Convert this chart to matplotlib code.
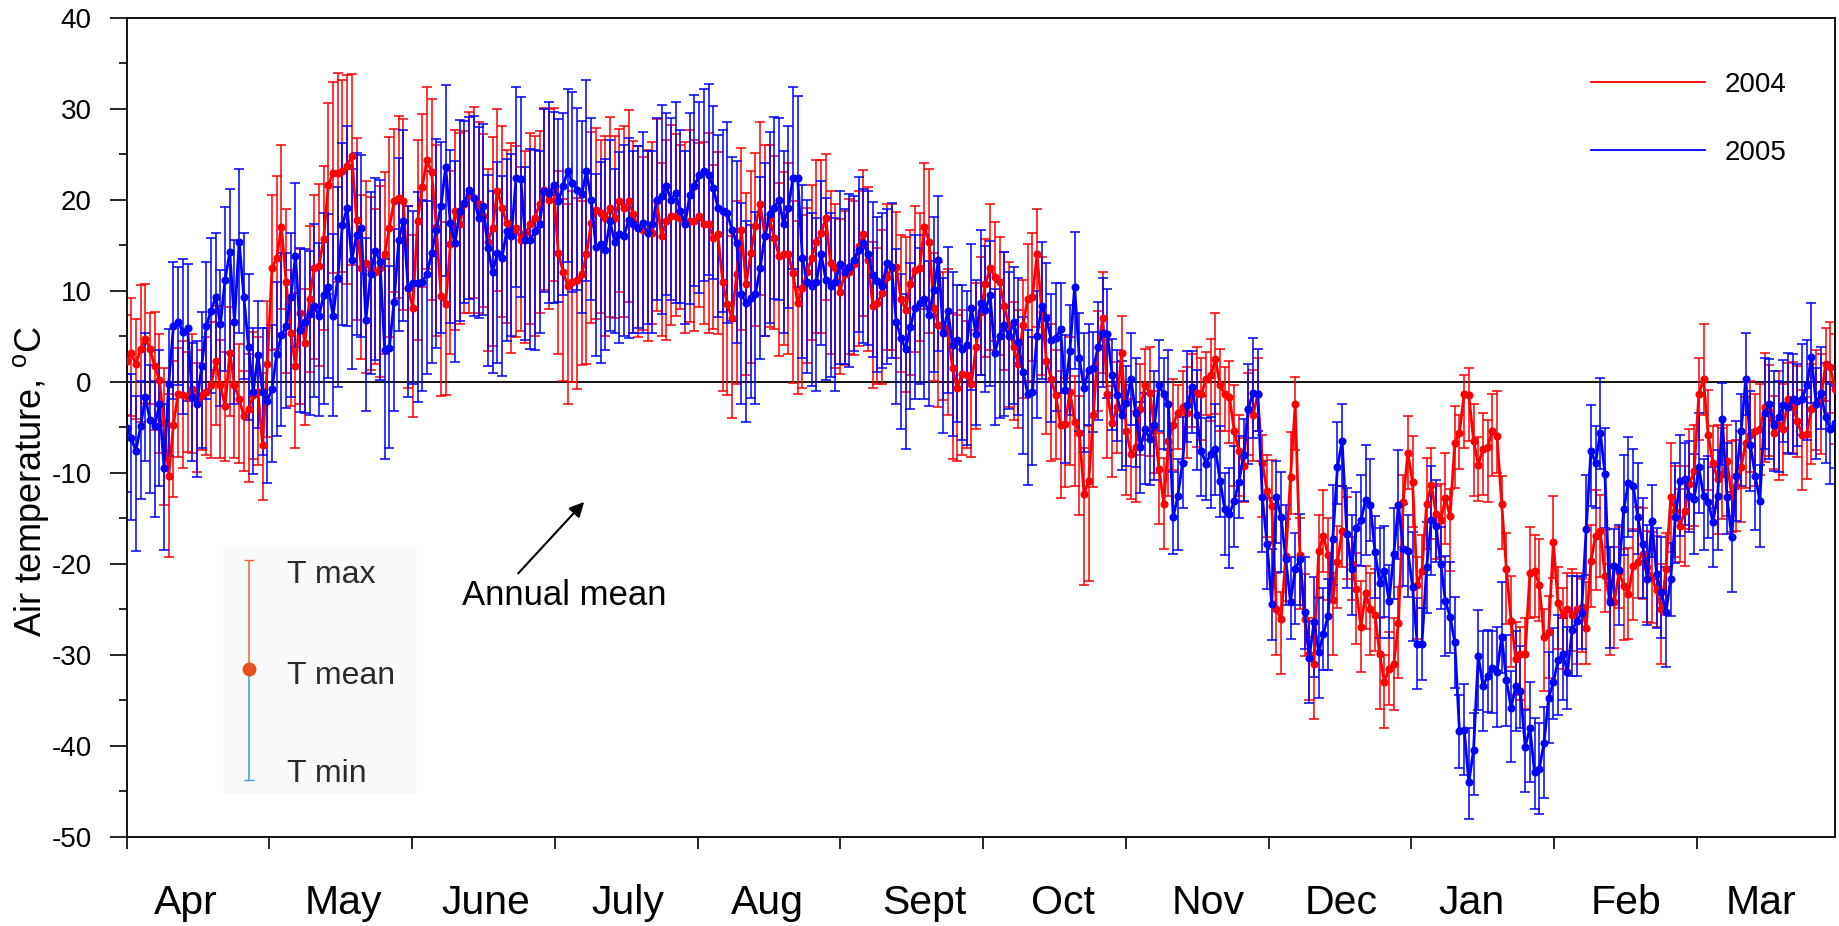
import numpy as np
import matplotlib
matplotlib.use('Agg')
import matplotlib.pyplot as plt
from matplotlib.lines import Line2D
from matplotlib.patches import Rectangle

plt.rcParams['font.family'] = 'Liberation Sans'
plt.rcParams['mathtext.fontset'] = 'custom'
plt.rcParams['mathtext.rm'] = 'Liberation Sans'
plt.rcParams['axes.unicode_minus'] = False

months = ['Apr', 'May', 'June', 'July', 'Aug', 'Sept',
          'Oct', 'Nov', 'Dec', 'Jan', 'Feb', 'Mar']
years = ['2004', '2005']

# daily mean air temperature, 1 April .. 31 March
mean_2004 = [
    2.3, 3.2, 1.9, 3.6, 4.7, 3.6, 1.7, 0.2, -4.5, -10.3, -4.7, -1.3, -1.5, -1.7, -0.8, -1.9, -1.5,
    -1.1, -0.4, 2.3, -0.4, -2.7, 3.2, -0.4, -1.9, -3.8, -3.0, -1.5, -1.1, -7.0, 1.9, 12.5, 13.6,
    17.0, 11.0, 5.3, 1.7, 7.6, 4.2, 9.1, 12.5, 12.7, 15.7, 21.6, 22.9, 22.9, 23.1, 23.7, 24.8,
    17.8, 12.5, 13.0,
    12.3, 12.0, 12.5, 14.0, 16.9, 19.8, 20.2, 19.9, 10.3, 8.1, 17.6, 21.4, 24.4, 23.0, 17.0, 9.4,
    8.5, 15.1, 18.7, 17.3, 19.5, 20.6, 20.2, 19.5, 18.2, 15.4, 16.9, 21.0, 19.1, 17.4, 16.2, 16.9,
    15.6, 16.3, 17.3, 18.0, 19.5, 21.1, 20.0, 21.1, 14.1, 12.1, 10.5, 11.0, 11.2, 11.8, 14.0, 17.4,
    18.9, 18.5, 18.0, 19.1, 18.0,
    19.8, 19.1, 19.8, 18.4, 16.9, 16.7, 16.5, 16.3, 19.8, 16.0, 17.6, 18.2, 18.2, 18.0, 17.3, 17.6,
    17.6, 18.2, 17.3, 17.3, 15.8, 16.2, 11.0, 8.5, 7.0, 11.8, 16.7, 10.7, 14.1, 17.1, 19.5, 16.0,
    18.0, 15.8, 13.8, 14.0, 14.0, 11.9, 8.6, 10.3, 12.1, 13.6, 15.4, 16.3, 18.0, 13.0, 12.5, 9.9,
    11.8, 12.1, 12.9, 14.9,
    16.2, 13.4, 8.3, 8.7, 9.7, 11.5, 12.5, 12.6, 9.1, 7.9, 10.7, 12.3, 12.5, 17.0, 15.4, 8.1, 6.2,
    6.0, 5.4, 1.5, -0.7, 0.9, 0.7, -0.3, 3.8, 7.7, 10.7, 12.5, 11.5, 10.9, 8.3, 6.2, 3.8, 1.9, 6.2,
    9.1, 9.3, 14.0, 7.7, 2.3, 0.3, -1.5, -4.8, -4.6, -1.1, -4.4, -5.6, -12.3, -10.9, -3.6, 3.8, 7.0,
    -1.4, -4.5, -2.8, 3.2, -5.4, -7.9, -7.2, -3.0, -0.4, -1.2, -5.0, -9.6, -13.4, -6.5, -4.7, -3.4,
    -2.8, -3.4, -1.0, -1.2, -1.4, 0.3, 0.7, 2.5, -0.4, -1.4, -1.7, -5.4, -7.6, -9.2, -3.0, -3.7,
    -1.4, -8.9, -12.0, -13.6, -25.0, -26.1, -19.1, -10.5, -2.5, -19.0, -26.1, -29.9, -31.0, -18.6,
    -16.9, -19.0, -24.0, -19.8, -16.4,
    -16.7, -20.0, -22.8, -26.9, -23.2, -25.0, -25.6, -29.9, -33.0, -31.5, -31.0, -26.5, -13.2,
    -7.8, -11.0, -22.3, -20.8, -13.4, -11.3, -14.5, -15.2, -12.8, -14.8, -6.7, -5.6, -1.3, -1.5,
    -6.5, -9.1, -7.4, -7.2, -5.4, -6.0, -13.4, -20.6, -26.3, -30.4, -29.9, -29.9, -21.0, -20.8,
    -22.3, -28.0, -27.5, -17.6, -24.3, -25.6, -25.0, -25.6, -25.0, -24.7,
    -27.0, -19.7, -16.9, -16.4, -21.3, -24.0, -24.2, -20.9, -22.4, -23.3, -20.2, -19.8, -18.9,
    -20.4, -21.5, -22.9, -25.0, -20.6, -12.7, -14.2, -15.8, -14.2, -11.2, -9.8, -1.4, 0.3, -5.9,
    -8.9, -10.7, -10.1, -8.7, -12.5, -11.4, -9.4, -6.7, -5.9, -5.4, -5.2, -2.8, -3.2, -5.6, -4.8,
    -5.2, -1.9, -2.8, -4.3, -5.9, -5.7, -3.0, -2.5, -1.9, 1.9, 1.6, -0.8,
]

mean_2005 = [
    -5.1, -6.2, -7.6, -4.9, -1.7, -4.2, -4.9, -2.5, -9.5, -0.2, 6.1, 6.6, 5.5, 5.9, -1.7, -2.5,
    1.7, 6.1, 7.8, 9.3, 6.3, 11.2, 14.2, 6.6, 15.4, 9.3, 3.8, -1.1, 2.9, -1.1, -2.1, -0.8, 3.0,
    5.1, 6.1, 9.3, 13.8, 5.7, 6.6, 7.4, 8.3, 7.2, 9.5, 10.4, 7.2, 11.4, 17.2, 19.1, 13.4, 16.1,
    16.9, 6.8,
    11.8, 14.4, 13.2, 3.5, 3.7, 8.8, 15.6, 17.7, 10.3, 10.8, 10.8, 11.0, 11.8, 14.1, 16.7, 19.3,
    23.6, 17.4, 15.2, 18.7, 19.6, 21.1, 20.2, 18.0, 19.3, 14.7, 12.0, 14.1, 13.6, 16.5, 16.0, 22.4,
    22.3, 15.6, 15.6, 16.5, 17.3, 20.9, 20.7, 21.6, 19.8, 21.5, 23.1, 21.8, 21.1, 20.6, 23.1, 20.0,
    14.8, 15.1, 14.5, 17.6, 15.4,
    16.2, 16.0, 17.8, 17.3, 16.9, 17.4, 16.3, 17.3, 20.0, 20.4, 21.5, 20.0, 20.7, 18.7, 17.3, 20.5,
    21.5, 22.7, 23.1, 22.7, 21.3, 19.1, 18.7, 18.5, 16.7, 15.2, 9.6, 8.6, 9.2, 9.6, 12.5, 16.0,
    18.4, 19.1, 20.0, 17.3, 19.1, 22.4, 22.4, 13.6, 11.0, 10.5, 11.0, 14.0, 11.2, 10.5, 11.0, 12.9,
    12.0, 12.6, 13.4, 14.5,
    15.2, 14.0, 11.7, 11.1, 10.5, 13.0, 12.6, 6.6, 4.8, 3.6, 6.0, 8.1, 8.7, 9.1, 7.3, 10.1, 13.4,
    5.4, 7.8, 4.0, 4.6, 3.6, 4.0, 8.1, 5.2, 8.7, 7.9, 9.5, 3.2, 5.0, 6.2, 5.0, 6.6, 4.4, 1.1, -1.3,
    -1.1, 5.0, 8.3, 7.0, 4.6, 4.8, 5.8, -0.9, 3.4, 10.4, 2.6, -0.7, 1.3, 1.5, 3.8, 5.4,
    5.2, 0.7, -1.5, -3.7, -2.3, 0.3, -3.4, -7.2, -5.2, -6.3, -4.8, -0.4, -1.4, -2.5, -14.9, -12.5,
    -8.9, -2.6, -0.6, -3.7, -7.6, -9.0, -7.9, -7.4, -10.9, -14.0, -14.5, -13.1, -11.0, -8.1, -3.0,
    -1.2, -1.4, -12.7, -17.8, -24.4, -12.7, -14.9, -19.5, -24.2, -20.6, -19.5, -25.3, -30.3,
    -26.4, -29.7, -27.7, -25.7, -17.3, -9.4, -6.5,
    -16.7, -20.6, -16.1, -15.2, -13.0, -13.5, -18.7, -22.1, -20.8, -24.1, -18.9, -13.5, -18.4,
    -18.6, -22.5, -28.8, -28.8, -20.4, -15.2, -15.8, -20.0, -24.1, -25.8, -28.6, -38.4, -38.2,
    -44.0, -40.4, -30.1, -33.4, -32.3, -31.4, -31.9, -28.0, -32.8, -35.8, -33.4, -34.0, -40.1,
    -38.0, -42.9, -42.5, -39.7, -34.7, -33.0, -30.6, -29.9, -31.9, -27.3, -26.3, -25.4,
    -16.2, -7.6, -8.9, -5.6, -10.1, -24.2, -20.2, -20.7, -14.0, -11.1, -11.4, -14.9, -17.8, -21.7,
    -15.3, -21.1, -23.1, -25.3, -21.7, -14.9, -10.9, -10.7, -12.5, -12.9, -9.4, -12.5, -13.2,
    -15.4, -12.5, -4.1, -12.7, -17.1, -10.3, -5.4, 0.3, -7.0, -10.3, -13.1, -3.4, -2.5, -4.8,
    -3.9, -2.6, -2.8, -1.9, -2.1, -1.9, -0.4, 2.7, -2.5, -1.2, -3.9, -5.2, -4.5,
]

# T max - T mean and T mean - T min (deg C)
up_2004 = [
    5, 6, 5, 7, 6, 4, 6, 5, 6, 9, 7, 5, 6, 5, 6, 4, 5, 6, 7, 6,
    5, 6, 5, 7, 6, 5, 6, 7, 6, 8, 7, 8, 9, 9, 8, 7, 8, 7, 6, 8,
    8, 9, 8, 9, 10, 11, 10, 10, 9, 9, 8, 9, 8, 7, 9, 9, 10, 8, 9, 9,
    9, 8, 9, 8, 8, 8, 9, 10, 9, 8, 9, 10, 8, 9, 10, 9, 9, 8, 10, 9,
    9, 8, 10, 9, 8, 9, 10, 9, 8, 9, 10, 9, 9, 8, 9, 10, 9, 8, 9, 10,
    9, 8, 9, 10, 9, 8, 9, 10, 8, 9, 8, 9, 10, 9, 8, 9, 10, 9, 8, 9,
    10, 9, 8, 9, 10, 8, 9, 8, 10, 9, 8, 9, 10, 9, 8, 9, 10, 8, 9, 8,
    9, 10, 8, 9, 8, 7, 8, 9, 8, 7, 8, 7, 8, 7, 8, 7, 6, 7, 8, 7,
    6, 7, 8, 7, 6, 7, 8, 6, 7, 6, 7, 8, 6, 7, 6, 7, 6, 8, 7, 6,
    6, 7, 6, 5, 7, 6, 5, 6, 7, 5, 6, 5, 6, 7, 5, 6, 5, 6, 5, 6,
    5, 6, 5, 4, 5, 6, 5, 4, 5, 6, 4, 5, 4, 5, 6, 4, 5, 4, 5, 4,
    4, 5, 4, 5, 3, 4, 5, 4, 5, 4, 3, 4, 5, 4, 3, 4, 5, 4, 3, 4,
    5, 4, 3, 4, 5, 4, 3, 4, 5, 3, 4, 5, 4, 3, 4, 5, 4, 3, 4, 5,
    4, 3, 4, 5, 3, 4, 5, 4, 3, 4, 5, 4, 3, 4, 5, 3, 4, 5, 4, 3,
    4, 5, 3, 4, 2, 2, 3, 4, 3, 4, 3, 4, 5, 3, 4, 5, 4, 3, 4, 5,
    4, 5, 3, 4, 5, 4, 3, 4, 5, 4, 3, 5, 4, 5, 4, 5, 4, 6, 5, 4,
    5, 4, 6, 5, 4, 5, 6, 5, 4, 6, 5, 4, 5, 6, 5, 4, 6, 5, 4, 6,
    5, 4, 6, 5, 4, 5, 6, 4, 5, 6, 5, 4, 6, 5, 4, 5, 6, 5, 4, 5,
    6, 5, 4, 5, 6,
]
down_2004 = [
    6, 7, 6, 8, 7, 6, 7, 8, 9, 9, 8, 7, 8, 6, 7, 8, 6, 7, 8, 7,
    8, 6, 7, 8, 7, 6, 8, 7, 8, 6, 8, 9, 10, 9, 10, 8, 9, 10, 9, 8,
    10, 11, 10, 12, 11, 12, 11, 13, 12, 11, 10, 12, 11, 10, 12, 11, 12, 10, 11, 12,
    11, 12, 13, 11, 12, 14, 12, 11, 10, 12, 13, 11, 12, 13, 11, 12, 10, 12, 13, 11,
    12, 11, 13, 12, 10, 12, 11, 13, 12, 11, 12, 10, 11, 12, 13, 11, 12, 10, 12, 11,
    12, 11, 13, 12, 11, 10, 12, 11, 13, 12, 11, 12, 10, 12, 11, 13, 12, 11, 10, 12,
    11, 12, 10, 11, 12, 10, 11, 12, 10, 11, 12, 11, 10, 12, 11, 10, 11, 12, 10, 11,
    10, 11, 12, 10, 11, 10, 9, 10, 11, 9, 10, 11, 9, 10, 9, 10, 11, 9, 10, 9,
    9, 10, 8, 9, 10, 8, 9, 10, 9, 8, 9, 10, 8, 9, 8, 9, 10, 8, 9, 8,
    8, 9, 7, 8, 9, 7, 8, 7, 9, 8, 7, 8, 9, 7, 8, 7, 8, 9, 7, 8,
    7, 8, 7, 9, 10, 11, 8, 7, 6, 7, 6, 5, 6, 7, 5, 6, 5, 6, 7, 5,
    6, 5, 6, 5, 4, 6, 5, 4, 6, 5, 4, 5, 6, 5, 4, 5, 6, 5, 4, 5,
    5, 4, 6, 5, 4, 5, 6, 5, 4, 5, 6, 4, 5, 6, 5, 4, 5, 6, 5, 4,
    5, 4, 6, 5, 4, 5, 4, 6, 5, 4, 5, 6, 5, 4, 5, 6, 4, 5, 6, 5,
    4, 5, 6, 5, 4, 6, 5, 6, 4, 5, 6, 5, 4, 5, 6, 5, 4, 5, 6, 5,
    5, 4, 6, 5, 4, 5, 6, 5, 4, 6, 5, 4, 5, 6, 5, 4, 6, 5, 4, 6,
    5, 6, 4, 5, 6, 5, 4, 6, 5, 6, 5, 4, 6, 5, 6, 5, 4, 6, 5, 6,
    5, 6, 4, 5, 6, 5, 4, 6, 5, 6, 5, 4, 6, 5, 6, 5, 4, 6, 5, 6,
    5, 6, 4, 5, 6,
]
up_2005 = [
    6, 7, 6, 5, 7, 6, 5, 6, 7, 6, 7, 6, 8, 7, 6, 7, 6, 7, 8, 7,
    6, 8, 7, 9, 8, 7, 8, 7, 6, 7, 8, 7, 8, 9, 8, 7, 8, 9, 8, 7,
    9, 8, 9, 8, 9, 10, 9, 9, 10, 9, 8, 9, 9, 8, 9, 10, 9, 8, 9, 10,
    9, 8, 10, 9, 8, 9, 10, 7, 9, 8, 9, 10, 9, 8, 9, 10, 9, 8, 9, 10,
    9, 8, 9, 10, 9, 8, 10, 9, 8, 9, 10, 8, 9, 8, 9, 10, 9, 8, 10, 9,
    8, 9, 10, 9, 8, 9, 10, 9, 8, 9, 10, 9, 8, 9, 10, 8, 9, 10, 9, 8,
    9, 10, 8, 9, 10, 9, 8, 9, 10, 8, 9, 10, 9, 8, 9, 10, 8, 9, 10, 9,
    8, 9, 10, 9, 8, 9, 8, 7, 8, 9, 8, 7, 8, 7, 8, 7, 8, 6, 7, 8,
    7, 8, 6, 7, 8, 7, 6, 7, 8, 6, 7, 6, 8, 7, 6, 7, 8, 6, 7, 6,
    7, 6, 8, 7, 6, 7, 6, 8, 7, 6, 7, 6, 7, 6, 5, 7, 6, 5, 6, 5,
    6, 5, 6, 5, 6, 5, 4, 5, 6, 5, 4, 5, 6, 4, 5, 6, 5, 4, 5, 6,
    5, 4, 6, 5, 4, 5, 6, 4, 5, 6, 5, 4, 5, 6, 4, 5, 6, 5, 4, 5,
    6, 5, 4, 5, 6, 4, 5, 6, 5, 4, 5, 6, 4, 5, 6, 5, 4, 6, 5, 4,
    5, 6, 4, 5, 6, 5, 4, 6, 5, 4, 5, 6, 5, 4, 6, 5, 4, 5, 6, 5,
    4, 5, 6, 5, 4, 5, 6, 4, 5, 6, 5, 4, 5, 6, 5, 4, 6, 5, 4, 5,
    6, 5, 4, 5, 6, 5, 4, 5, 6, 5, 4, 6, 5, 4, 6, 5, 6, 4, 5, 6,
    5, 4, 6, 5, 6, 4, 5, 6, 5, 4, 6, 5, 4, 6, 5, 6, 4, 5, 6, 5,
    4, 6, 5, 6, 4, 5, 6, 5, 4, 6, 5, 6, 4, 5, 6, 5, 4, 6, 5, 6,
    4, 5, 6, 5, 4,
]
down_2005 = [
    7, 9, 11, 8, 7, 8, 10, 9, 9, 8, 8, 7, 9, 8, 7, 8, 9, 8, 9, 8,
    9, 10, 11, 9, 10, 9, 8, 9, 8, 7, 9, 8, 9, 10, 9, 11, 10, 9, 10, 11,
    10, 11, 12, 10, 11, 12, 11, 13, 12, 11, 12, 10, 11, 12, 13, 12, 11, 12, 10, 11,
    12, 11, 13, 12, 11, 12, 13, 14, 12, 11, 13, 12, 11, 12, 13, 11, 12, 13, 11, 12,
    13, 12, 11, 12, 13, 11, 12, 13, 12, 11, 12, 13, 11, 12, 10, 12, 11, 13, 12, 11,
    12, 13, 11, 12, 10, 12, 11, 13, 12, 11, 12, 10, 12, 11, 13, 12, 11, 12, 10, 11,
    12, 11, 13, 12, 11, 10, 12, 11, 12, 10, 11, 12, 13, 11, 12, 10, 11, 12, 10, 11,
    12, 11, 10, 12, 11, 10, 11, 12, 10, 11, 10, 12, 11, 10, 11, 10, 9, 11, 10, 9,
    10, 9, 11, 10, 9, 10, 11, 9, 10, 9, 11, 10, 9, 10, 11, 9, 10, 9, 10, 11,
    9, 10, 8, 9, 10, 8, 9, 10, 8, 9, 8, 9, 10, 8, 9, 8, 7, 9, 8, 7,
    8, 7, 9, 8, 7, 6, 7, 8, 6, 7, 6, 5, 6, 7, 5, 6, 5, 6, 5, 6,
    5, 6, 5, 4, 6, 5, 4, 5, 6, 5, 4, 6, 5, 4, 5, 6, 5, 4, 5, 6,
    5, 4, 6, 5, 4, 5, 6, 5, 4, 6, 5, 4, 5, 6, 5, 4, 6, 5, 4, 5,
    6, 5, 4, 5, 6, 4, 5, 6, 5, 4, 5, 6, 4, 5, 6, 5, 4, 5, 6, 4,
    5, 6, 4, 5, 4, 5, 4, 5, 6, 5, 4, 5, 6, 4, 5, 6, 5, 4, 5, 6,
    4, 5, 6, 5, 4, 6, 5, 4, 5, 6, 4, 5, 6, 5, 4, 6, 5, 4, 6, 5,
    6, 5, 4, 6, 5, 4, 6, 5, 6, 4, 5, 6, 5, 4, 6, 5, 6, 4, 5, 6,
    5, 4, 6, 5, 6, 4, 5, 6, 5, 4, 6, 5, 6, 4, 5, 6, 5, 4, 6, 5,
    6, 4, 5, 6, 5,
]

# example symbol (T max / T mean / T min) drawn inside the plot
key_values = [-19.6, -31.5, -43.7]
key_labels = ['T max', 'T mean', 'T min']

for name, arr in [('mean_2004', mean_2004), ('mean_2005', mean_2005),
                  ('up_2004', up_2004), ('down_2004', down_2004),
                  ('up_2005', up_2005), ('down_2005', down_2005)]:
    assert len(arr) == 365, (name, len(arr))

days = np.arange(len(mean_2004))

fig = plt.figure(figsize=(18.39, 9.26), dpi=100)
fig.patch.set_facecolor('white')
ax = fig.add_axes([0.0688, 0.0961, 0.929, 0.885])

ax.axhline(0, color='black', lw=1.3, zorder=1)

series = [
    (mean_2004, up_2004, down_2004, '#FF0000'),
    (mean_2005, up_2005, down_2005, '#0000FF'),
]
for mean, up, down, colour in series:
    ax.errorbar(days, mean, yerr=[down, up], fmt='none', ecolor=colour,
                elinewidth=1.1, capsize=3.8, capthick=1.1, zorder=2)
for mean, up, down, colour in series:
    ax.plot(days, mean, '-o', color=colour, lw=2.0, markersize=4.8, zorder=3)

# legend for the two years
handles = [Line2D([], [], color='#FF0000', lw=1.3),
           Line2D([], [], color='#0000FF', lw=1.3)]
ax.legend(handles, years, loc='upper right', bbox_to_anchor=(0.986, 0.964),
          frameon=False, fontsize=20, handlelength=4.1, handletextpad=0.7,
          labelspacing=1.5)

# inset key for the error bars
ax.add_patch(Rectangle((20.6, -45.3), 41.3, 27.2, facecolor='#fafafa',
                       edgecolor='none', zorder=0.5))
kx = 26.0
ax.errorbar([kx], [key_values[1]], yerr=[[0], [key_values[0] - key_values[1]]],
            fmt='none', ecolor='#F0643C', elinewidth=1.1, capsize=3.8, zorder=4)
ax.errorbar([kx], [key_values[1]], yerr=[[key_values[1] - key_values[2]], [0]],
            fmt='none', ecolor='#38A0DC', elinewidth=1.1, capsize=3.8, zorder=4)
ax.plot([kx], [key_values[1]], 'o', color='#E8501E', markersize=9, zorder=5)
for val, lab in zip([-21.2, -32.3, -43.1], key_labels):
    ax.text(34.2, val, lab, fontsize=23, color='#2a2a2a',
            ha='left', va='center', zorder=5)

ax.annotate('Annual mean', xy=(97.5, -13.2), xytext=(93.2, -23.5),
            fontsize=25, ha='center', va='center',
            arrowprops=dict(arrowstyle='-|>', color='black', lw=1.5,
                            mutation_scale=22, shrinkA=3, shrinkB=0,
                            relpos=(0.25, 1.0)))

# axes styling
month_len = 365 / 12
label_pos = [12.7, 46.3, 76.6, 106.9, 136.6, 169.9,
             199.6, 230.4, 258.7, 286.6, 319.4, 348.3]
ax.set_xlim(0, 364)
ax.set_ylim(-50, 40)
ax.set_xticks([k * month_len for k in range(12)])
ax.set_xticks(label_pos, minor=True)
ax.set_xticklabels([])
ax.set_xticklabels(months, minor=True)
ax.tick_params(axis='x', which='major', direction='out', length=8.5,
               width=1.2, top=False)
ax.tick_params(axis='x', which='minor', length=0, pad=34, labelsize=29.5)

ax.set_yticks(range(-50, 41, 10))
ax.set_yticks(range(-45, 40, 10), minor=True)
ax.tick_params(axis='y', which='major', direction='out', length=12,
               width=1.2, labelsize=20, pad=13, right=False)
ax.tick_params(axis='y', which='minor', direction='out', length=6,
               width=1.2, right=False)

for side in ['left', 'right', 'top', 'bottom']:
    ax.spines[side].set_linewidth(1.3)

ax.set_ylabel('Air temperature, $^{\\mathrm{o}}$C', fontsize=26)
ax.yaxis.set_label_coords(-0.044, 0.434)

fig.savefig('out.png', dpi=100, facecolor='white')
